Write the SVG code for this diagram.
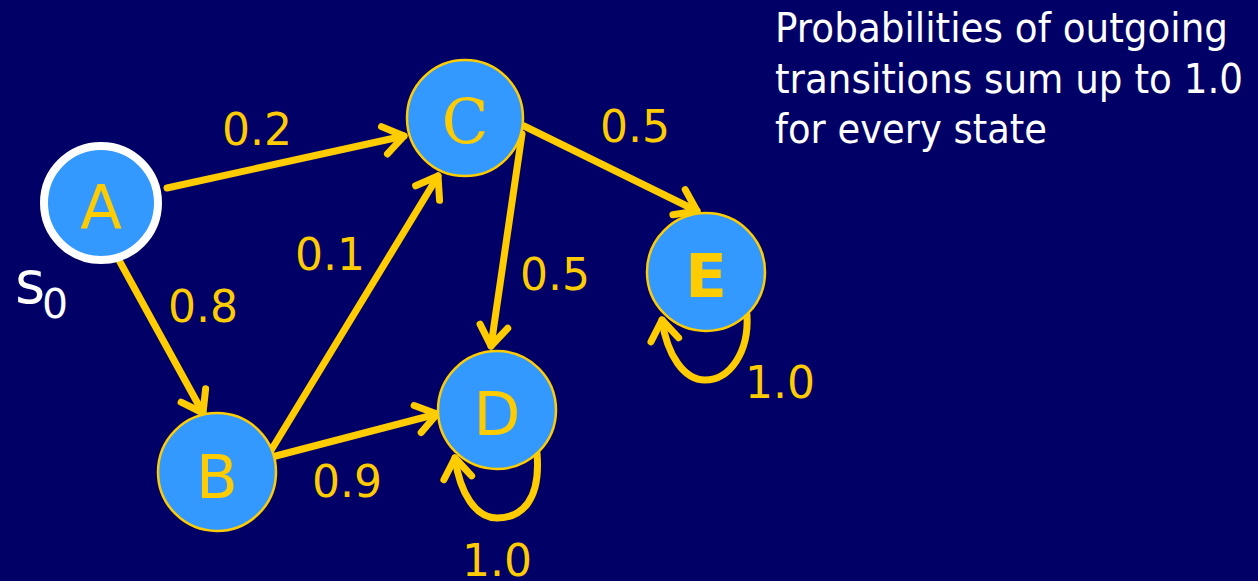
<svg xmlns="http://www.w3.org/2000/svg" width="1258" height="581" viewBox="0 0 1258 581">
<defs>
<style>
.node{fill:#3399FF;stroke:#FFCC00;stroke-width:2.5}
.start{fill:#3399FF;stroke:#FFFFFF;stroke-width:8}
.ltr{font-family:"DejaVu Sans",Verdana,sans-serif;font-size:61px;fill:#FFCC00;text-anchor:middle}
.edge{fill:none;stroke:#FFCC00;stroke-width:7;stroke-linecap:round;stroke-linejoin:round}
.lbl{font-family:"DejaVu Sans",Verdana,sans-serif;font-size:44px;fill:#FFCC00}
.note{font-family:"DejaVu Sans",Tahoma,sans-serif;font-size:40px;fill:#FFFFFF}
</style>
<marker id="arr" markerUnits="userSpaceOnUse" markerWidth="40" markerHeight="40" viewBox="-30 -20 40 40" refX="0" refY="0" orient="auto" overflow="visible">
<path d="M-20,-14 L0,0 L-20,14" fill="none" stroke="#FFCC00" stroke-width="7" stroke-linecap="round" stroke-linejoin="round"/>
</marker>
</defs>
<rect x="0" y="0" width="1258" height="581" fill="#000066"/>
<g id="connectors">
<path class="edge" d="M167,188 L404,136" marker-end="url(#arr)"/>
<path class="edge" d="M120,262 L203,413" marker-end="url(#arr)"/>
<path class="edge" d="M267,457 L438,176" marker-end="url(#arr)"/>
<path class="edge" d="M268,458 L437,414" marker-end="url(#arr)"/>
<path class="edge" d="M522,134 L491,346" marker-end="url(#arr)"/>
<path class="edge" d="M524,126 L697,211" marker-end="url(#arr)"/>
<path class="edge" d="M537,453 C541,500 522,518 497,518 C476,518 460,494 455,458" marker-end="url(#arr)"/>
<path class="edge" d="M747,315 C749,352 730,380 705,380 C684,380 667,355 662,320" marker-end="url(#arr)"/>
</g>
<g id="node-A">
<circle class="start" cx="101" cy="203" r="57"/>
<text class="ltr" x="101" y="228">A</text>
</g>
<g id="node-B">
<circle class="node" cx="217" cy="472" r="59"/>
<text class="ltr" x="217" y="498">B</text>
</g>
<g id="node-C">
<circle class="node" cx="465" cy="118" r="58"/>
<text class="ltr" x="465" y="143" style="font-family:'DejaVu Serif',Georgia,serif">C</text>
</g>
<g id="node-D">
<circle class="node" cx="497" cy="410" r="59"/>
<text class="ltr" x="497" y="435">D</text>
</g>
<g id="node-E">
<circle class="node" cx="706" cy="272" r="59"/>
<text class="ltr" x="706" y="297" style="font-weight:bold">E</text>
</g>
<g id="labels">
<text class="lbl" x="222" y="145">0.2</text>
<text class="lbl" x="168" y="322">0.8</text>
<text class="lbl" x="295" y="270">0.1</text>
<text class="lbl" x="600" y="142">0.5</text>
<text class="lbl" x="520" y="290">0.5</text>
<text class="lbl" x="312" y="497">0.9</text>
<text class="lbl" x="462" y="576">1.0</text>
<text class="lbl" x="745" y="398">1.0</text>
<text x="15" y="303" style="font-family:'DejaVu Sans',Verdana,sans-serif;font-size:58px;fill:#FFFFFF">s</text>
<text x="42" y="318" style="font-family:'DejaVu Sans',Verdana,sans-serif;font-size:41px;fill:#FFFFFF">0</text>
</g>
<g id="note">
<text class="note" x="775" y="42" textLength="453" lengthAdjust="spacingAndGlyphs">Probabilities of outgoing</text>
<text class="note" x="775" y="93" textLength="468" lengthAdjust="spacingAndGlyphs">transitions sum up to 1.0</text>
<text class="note" x="775" y="143" textLength="272" lengthAdjust="spacingAndGlyphs">for every state</text>
</g>
</svg>
